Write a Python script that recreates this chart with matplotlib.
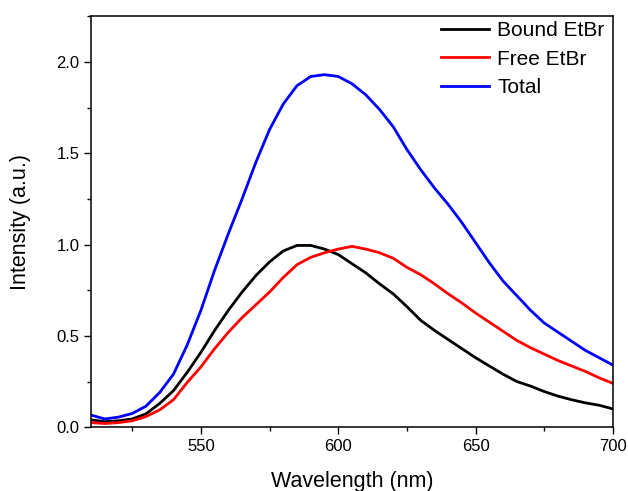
import numpy as np
import matplotlib.pyplot as plt
from matplotlib.ticker import MultipleLocator

plt.rcParams['font.family'] = ['Liberation Sans', 'DejaVu Sans']

# wavelength grid (nm) and intensities
wavelength = list(range(510, 705, 5))

bound = [0.04, 0.03, 0.035, 0.045, 0.073, 0.13, 0.20, 0.30, 0.41, 0.53,
         0.64, 0.74, 0.83, 0.905, 0.965, 0.995, 0.995, 0.975, 0.945, 0.895,
         0.845, 0.785, 0.73, 0.66, 0.585, 0.53, 0.48, 0.43, 0.38, 0.335,
         0.29, 0.25, 0.225, 0.195, 0.17, 0.15, 0.133, 0.12, 0.10]

free = [0.025, 0.02, 0.025, 0.035, 0.058, 0.095, 0.15, 0.245, 0.33, 0.43,
        0.52, 0.60, 0.67, 0.74, 0.82, 0.89, 0.93, 0.955, 0.975, 0.99,
        0.975, 0.955, 0.925, 0.875, 0.835, 0.785, 0.73, 0.68, 0.625, 0.575,
        0.525, 0.475, 0.435, 0.40, 0.365, 0.335, 0.305, 0.27, 0.24]

total = [0.066, 0.045, 0.055, 0.075, 0.115, 0.19, 0.29, 0.45, 0.64, 0.86,
         1.06, 1.25, 1.45, 1.63, 1.77, 1.87, 1.92, 1.93, 1.92, 1.88,
         1.82, 1.74, 1.645, 1.52, 1.41, 1.31, 1.22, 1.12, 1.01, 0.90,
         0.80, 0.72, 0.64, 0.57, 0.52, 0.47, 0.42, 0.38, 0.34]

fig = plt.figure(figsize=(6.28, 4.91), dpi=100)
ax = fig.add_axes([0.145, 0.130, 0.831, 0.837])

ax.plot(wavelength, bound, color='black', lw=2, label='Bound EtBr')
ax.plot(wavelength, free, color='red', lw=2, label='Free EtBr')
ax.plot(wavelength, total, color='blue', lw=2, label='Total')

ax.set_xlim(510, 700)
ax.set_ylim(0, 2.25)
ax.xaxis.set_major_locator(MultipleLocator(50))
ax.xaxis.set_minor_locator(MultipleLocator(25))
ax.yaxis.set_major_locator(MultipleLocator(0.5))
ax.yaxis.set_minor_locator(MultipleLocator(0.25))
ax.yaxis.set_major_formatter(plt.FormatStrFormatter('%.1f'))
ax.tick_params(which='major', direction='out', length=5, width=1, labelsize=12)
ax.tick_params(which='minor', direction='out', length=3, width=1)
for s in ax.spines.values():
    s.set_linewidth(1.1)

ax.set_xlabel('Wavelength (nm)', fontsize=15.5, labelpad=12)
ax.set_ylabel('Intensity (a.u.)', fontsize=15.5, labelpad=18)

ax.legend(loc='upper right', bbox_to_anchor=(0.992, 0.998), frameon=False,
          fontsize=15, handlelength=2.3, labelspacing=0.45,
          borderaxespad=0.1, borderpad=0.1, handletextpad=0.4)

fig.savefig('out.png', dpi=100)
